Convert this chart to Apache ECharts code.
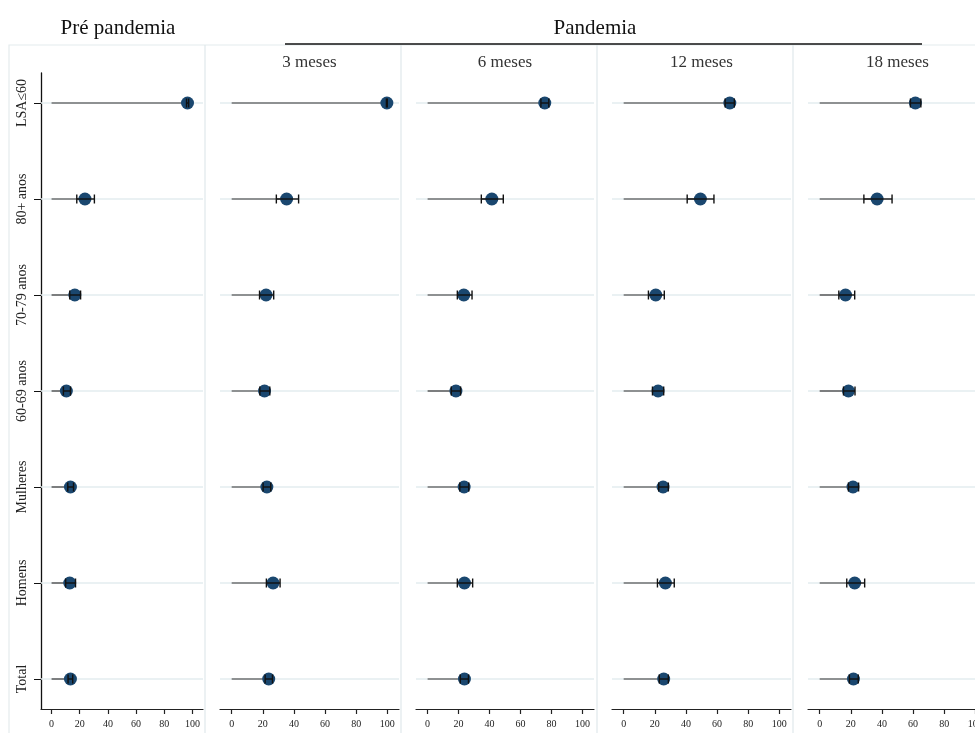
<!DOCTYPE html>
<html>
<head>
<meta charset="utf-8">
<script src="https://cdn.jsdelivr.net/npm/echarts@6/dist/echarts.min.js"></script>
<style>
html,body{margin:0;padding:0;background:#fff;}
#chart{width:975px;height:733px;}
</style>
</head>
<body>
<div id="chart"></div>
<script>
// ---- Data (top-to-bottom order of rows) ----
const categories = ['LSA≤60', '80+ anos', '70-79 anos', '60-69 anos', 'Mulheres', 'Homens', 'Total'];
const panelTitles = ['', '3 meses', '6 meses', '12 meses', '18 meses'];
const groupTitles = ['Pré pandemia', 'Pandemia'];
const xTicks = [0, 20, 40, 60, 80, 100];

// Pré pandemia
const estPre = [96.5, 23.7, 16.5, 10.5, 13.4, 12.9, 13.4];
const loPre  = [95.8, 17.9, 12.9,  8.4, 11.5, 10.0, 11.7];
const hiPre  = [97.3, 30.4, 20.6, 13.4, 15.6, 17.0, 15.0];
// 3 meses
const est3 = [99.7, 35.3, 22.1, 21.1, 22.6, 26.6, 23.8];
const lo3  = [99.4, 28.7, 17.9, 18.1, 20.2, 22.3, 21.5];
const hi3  = [100.0, 43.0, 27.0, 24.5, 25.1, 31.1, 26.2];
// 6 meses
const est6 = [75.7, 41.5, 23.4, 18.3, 23.6, 23.8, 23.8];
const lo6  = [73.2, 34.7, 19.2, 15.3, 20.8, 19.2, 21.1];
const hi6  = [78.3, 48.9, 28.7, 21.3, 26.6, 29.1, 26.4];
// 12 meses
const est12 = [68.2, 49.3, 20.6, 22.1, 25.3, 26.8, 25.7];
const lo12  = [65.2, 40.8, 15.9, 18.5, 22.5, 21.7, 22.9];
const hi12  = [71.1, 58.0, 26.1, 25.7, 28.7, 32.5, 28.7];
// 18 meses
const est18 = [61.5, 36.9, 16.6, 18.5, 21.4, 22.5, 21.7];
const lo18  = [58.3, 28.4, 12.3, 15.3, 18.5, 17.4, 19.1];
const hi18  = [65.0, 46.5, 22.5, 22.7, 25.0, 28.9, 24.8];

const panels = [
  {est: estPre, lo: loPre, hi: hiPre},
  {est: est3, lo: lo3, hi: hi3},
  {est: est6, lo: lo6, hi: hi6},
  {est: est12, lo: lo12, hi: hi12},
  {est: est18, lo: lo18, hi: hi18}
];

// ---- Layout ----
const X_MIN = -7.5, X_MAX = 107.5;
const Y_MIN = -0.3125, Y_MAX = categories.length - 1 + 0.3125;
const gridRects = [
  {left: 41, width: 162},
  {left: 220, width: 179},
  {left: 416, width: 178},
  {left: 612, width: 179},
  {left: 808, width: 179}
];
const GRID_TOP = 73, GRID_HEIGHT = 636;
const FONT = '"Liberation Serif", "DejaVu Serif", serif';
const NAVY = '#1a476f';

const grids = [], xAxes = [], yAxes = [], series = [], titles = [];

function spikeRender(params, api) {
  const idx = api.value(1), est = api.value(0);
  const a = api.coord([X_MIN, idx]), b = api.coord([X_MAX, idx]);
  const z0 = api.coord([0, idx]), p = api.coord([est, idx]);
  return {type: 'group', children: [
    {type: 'line', shape: {x1: a[0], y1: a[1], x2: b[0], y2: b[1]}, style: {stroke: '#e3ecef', lineWidth: 1.5}},
    {type: 'line', shape: {x1: z0[0], y1: z0[1], x2: p[0], y2: p[1]}, style: {stroke: '#333', lineWidth: 1.2}}
  ]};
}
function ciRender(params, api) {
  const idx = api.value(1), lo = api.value(2), hi = api.value(3);
  const l = api.coord([lo, idx]), h = api.coord([hi, idx]);
  const cap = 4.5;
  const st = {stroke: '#111', lineWidth: 1.4};
  return {type: 'group', children: [
    {type: 'line', shape: {x1: l[0], y1: l[1], x2: h[0], y2: h[1]}, style: st},
    {type: 'line', shape: {x1: l[0], y1: l[1] - cap, x2: l[0], y2: l[1] + cap}, style: st},
    {type: 'line', shape: {x1: h[0], y1: h[1] - cap, x2: h[0], y2: h[1] + cap}, style: st}
  ]};
}

panels.forEach((pn, i) => {
  const r = gridRects[i];
  grids.push({left: r.left, width: r.width, top: GRID_TOP, height: GRID_HEIGHT,
    containLabel: false, outerBoundsMode: 'none'});
  xAxes.push({
    type: 'value', gridIndex: i, min: X_MIN, max: X_MAX,
    axisLine: {show: true, onZero: false, lineStyle: {color: '#222', width: 1.2}},
    axisTick: {show: true, length: 5, customValues: xTicks, lineStyle: {color: '#222', width: 1.2}},
    axisLabel: {customValues: xTicks, margin: 10, color: '#222', fontFamily: FONT, fontSize: 10},
    splitLine: {show: false}
  });
  const first = i === 0;
  yAxes.push({
    type: 'value', gridIndex: i, min: Y_MIN, max: Y_MAX, inverse: true,
    axisLine: {show: first, onZero: false, lineStyle: {color: '#111', width: 1.3}},
    axisTick: {show: first, length: 7, customValues: categories.map((c, k) => k), lineStyle: {color: '#111', width: 1}},
    axisLabel: {
      show: first, customValues: categories.map((c, k) => k), rotate: 90, margin: 12,
      color: '#222', fontFamily: FONT, fontSize: 14,
      formatter: v => categories[Math.round(v)]
    },
    splitLine: {show: false}
  });
  const data = pn.est.map((v, k) => [v, k, pn.lo[k], pn.hi[k]]);
  series.push({
    type: 'custom', xAxisIndex: i, yAxisIndex: i, renderItem: spikeRender,
    data: data, encode: {x: 0, y: 1}, z: 1, silent: true, clip: false
  });
  series.push({
    type: 'scatter', xAxisIndex: i, yAxisIndex: i, symbol: 'circle', symbolSize: 13,
    itemStyle: {color: NAVY, opacity: 1}, data: data.map(d => [d[0], d[1]]), z: 2, silent: true
  });
  series.push({
    type: 'custom', xAxisIndex: i, yAxisIndex: i, renderItem: ciRender,
    data: data, encode: {x: 0, y: 1}, z: 3, silent: true, clip: false
  });
  if (panelTitles[i]) {
    const cx = r.left + r.width / 2;
    titles.push({
      text: panelTitles[i], left: cx, top: 54, textAlign: 'center', padding: 0,
      textStyle: {fontFamily: FONT, fontSize: 17, fontWeight: 'normal', color: '#333'}
    });
  }
});

titles.push({text: groupTitles[0], left: 118, top: 18, textAlign: 'center', padding: 0,
  textStyle: {fontFamily: FONT, fontSize: 21, fontWeight: 'normal', color: '#111'}});
titles.push({text: groupTitles[1], left: 595, top: 18, textAlign: 'center', padding: 0,
  textStyle: {fontFamily: FONT, fontSize: 21, fontWeight: 'normal', color: '#111'}});

const graphics = [
  {type: 'rect', shape: {x: 9, y: 45, width: 1000, height: 800}, style: {fill: 'none', stroke: '#e4ebed', lineWidth: 1.2}, z: -10, silent: true},
  {type: 'line', shape: {x1: 285, y1: 44, x2: 922, y2: 44}, style: {stroke: '#111', lineWidth: 1.5}, silent: true}
];
[205, 401, 597, 793].forEach(x => {
  graphics.push({type: 'line', shape: {x1: x, y1: 45, x2: x, y2: 733}, style: {stroke: '#dfe8eb', lineWidth: 1.2}, z: -10, silent: true});
});

const chart = echarts.init(document.getElementById('chart'), null, {renderer: 'canvas'});
chart.setOption({
  backgroundColor: '#ffffff',
  animation: false,
  title: titles,
  grid: grids,
  xAxis: xAxes,
  yAxis: yAxes,
  series: series,
  graphic: graphics
});
</script>
</body>
</html>
